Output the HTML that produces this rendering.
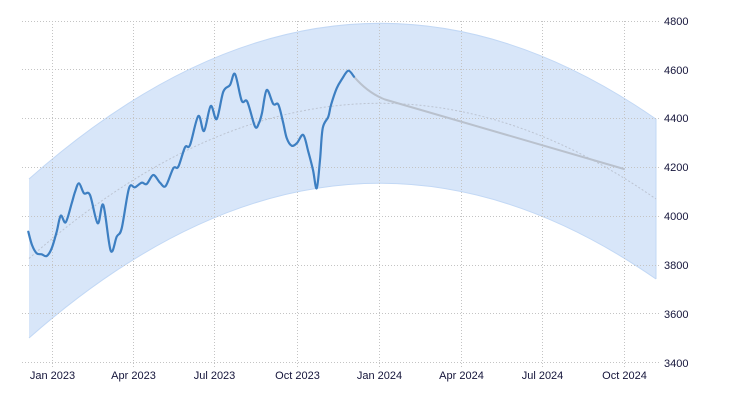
<!DOCTYPE html>
<html>
<head>
<meta charset="utf-8">
<style>
html,body{margin:0;padding:0;background:#fff;}
body{width:730px;height:400px;overflow:hidden;}
svg{display:block;}
text{font-family:"Liberation Sans",sans-serif;font-size:11px;fill:#14143a;}
</style>
</head>
<body>
<svg id="chart" width="730" height="400" viewBox="0 0 730 400" xmlns="http://www.w3.org/2000/svg">
  <!-- band -->
  <path d="M29,179 Q342.5,-98.8 656,119.1 L656,279 Q342.5,61.6 29,338 Z" fill="#d8e6f9" stroke="none"/>
  <path d="M29,179 Q342.5,-98.8 656,119.1" fill="none" stroke="#c2d8f5" stroke-width="1"/>
  <path d="M29,338 Q342.5,61.6 656,279" fill="none" stroke="#c2d8f5" stroke-width="1"/>
  <line x1="656" y1="119" x2="656" y2="279" stroke="#c2d8f5" stroke-width="1"/>

  <!-- horizontal grid -->
  <g stroke="#c4c4c4" stroke-width="1" stroke-dasharray="1,2">
    <line x1="22" y1="21.5" x2="660" y2="21.5"/>
    <line x1="22" y1="69.5" x2="660" y2="69.5"/>
    <line x1="22" y1="118.5" x2="660" y2="118.5"/>
    <line x1="22" y1="167.5" x2="660" y2="167.5"/>
    <line x1="22" y1="216.5" x2="660" y2="216.5"/>
    <line x1="22" y1="265.5" x2="660" y2="265.5"/>
    <line x1="22" y1="313.5" x2="660" y2="313.5"/>
    <line x1="22" y1="362.5" x2="660" y2="362.5"/>
  </g>
  <!-- vertical grid -->
  <g stroke="#c4c4c4" stroke-width="1" stroke-dasharray="1,2">
    <line x1="52.5" y1="21" x2="52.5" y2="367"/>
    <line x1="133.5" y1="21" x2="133.5" y2="367"/>
    <line x1="214.5" y1="21" x2="214.5" y2="367"/>
    <line x1="297.5" y1="21" x2="297.5" y2="367"/>
    <line x1="379.5" y1="21" x2="379.5" y2="367"/>
    <line x1="461.5" y1="21" x2="461.5" y2="367"/>
    <line x1="542.5" y1="21" x2="542.5" y2="367"/>
    <line x1="624.5" y1="21" x2="624.5" y2="367"/>
  </g>

  <!-- center trend line -->
  <path d="M29,258.5 Q342.5,-18.6 656,199" fill="none" stroke="#bcc4d2" stroke-width="1" stroke-dasharray="2,2"/>

  <!-- forecast -->
  <path d="M354,76.7 Q368,93 385,99.5 L624,169" fill="none" stroke="#b9c1cd" stroke-width="2" stroke-linecap="round"/>

  <!-- main series -->
  <polyline id="mainline" fill="none" stroke="#3d7fc2" stroke-width="2.2" stroke-linejoin="round" stroke-linecap="round"
    points="28.3,231.7 32,245 36.7,253.3 41.7,254.3 46.7,256 51.7,248.3 56.7,231.7 60.7,215.7 65.7,222.3 71.7,203.3 75,192 79,183.3 84,193.3 90,195 97.7,223.3 103.3,205 110.7,250.7 116.7,236.7 121.7,228.3 129,188.3 135,187.3 141.7,182.7 146.7,184 153.3,175 160,182.7 165.7,186 173.3,168.3 178.3,166.7 185,147.3 190,145 198.3,116 204,131 210.7,106 216.7,119 223.3,91.7 230,85 235,74 241.7,100.7 247.3,101.7 255,126.5 259,123 262,113 266.7,90 273.3,104 278.3,104.5 283,122 286.7,138 291.7,145.7 297,143 303.3,135 308.3,151.7 313,170 316.7,188.3 320,160 322.7,128.3 328.3,116.7 331,105 336.7,88.3 342,79 348.3,70.7 354,76.7"/>

  <!-- y labels -->
  <g>
    <text x="664" y="25">4800</text>
    <text x="664" y="74">4600</text>
    <text x="664" y="122">4400</text>
    <text x="664" y="171">4200</text>
    <text x="664" y="220">4000</text>
    <text x="664" y="269">3800</text>
    <text x="664" y="318">3600</text>
    <text x="664" y="367">3400</text>
  </g>
  <!-- x labels -->
  <g text-anchor="middle">
    <text x="52.5" y="379">Jan 2023</text>
    <text x="133.5" y="379">Apr 2023</text>
    <text x="214.5" y="379">Jul 2023</text>
    <text x="297.5" y="379">Oct 2023</text>
    <text x="379.5" y="379">Jan 2024</text>
    <text x="461.5" y="379">Apr 2024</text>
    <text x="542.5" y="379">Jul 2024</text>
    <text x="624.5" y="379">Oct 2024</text>
  </g>
</svg>
<script>
(function(){
  try{
    var pl=document.getElementById('mainline');
    var raw=pl.getAttribute('points').trim().split(/\s+/).map(function(s){var a=s.split(',');return [parseFloat(a[0]),parseFloat(a[1])];});
    var d='M'+raw[0][0]+','+raw[0][1];
    for(var i=0;i<raw.length-1;i++){
      var p0=raw[i>0?i-1:i],p1=raw[i],p2=raw[i+1],p3=raw[i+2<raw.length?i+2:i+1];
      var t=0.5/3;
      var c1x=p1[0]+(p2[0]-p0[0])*t, c1y=p1[1]+(p2[1]-p0[1])*t;
      var c2x=p2[0]-(p3[0]-p1[0])*t, c2y=p2[1]-(p3[1]-p1[1])*t;
      d+=' C'+c1x.toFixed(2)+','+c1y.toFixed(2)+' '+c2x.toFixed(2)+','+c2y.toFixed(2)+' '+p2[0]+','+p2[1];
    }
    var ns='http://www.w3.org/2000/svg';
    var path=document.createElementNS(ns,'path');
    path.setAttribute('d',d);
    path.setAttribute('fill','none');
    path.setAttribute('stroke','#3d7fc2');
    path.setAttribute('stroke-width','2.2');
    path.setAttribute('stroke-linejoin','round');
    path.setAttribute('stroke-linecap','round');
    pl.parentNode.insertBefore(path,pl);
    pl.parentNode.removeChild(pl);
  }catch(e){}
})();
</script>
</body>
</html>
